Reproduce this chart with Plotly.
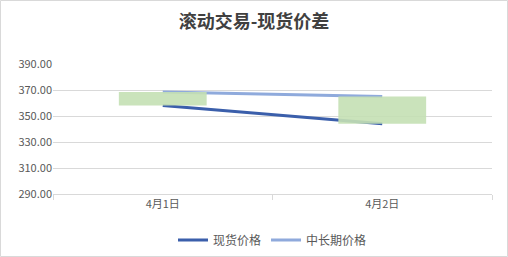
import plotly.graph_objects as go

categories = ["4月1日", "4月2日"]
spot_price = [358, 344]
long_term_price = [368.5, 365]
y_ticks = [290, 310, 330, 350, 370, 390]

W, H = 508, 257
ML, MR, MT, MB = 53, 16, 64, 63

bar_base = [min(a, b) for a, b in zip(spot_price, long_term_price)]
bar_len = [abs(a - b) for a, b in zip(spot_price, long_term_price)]

fig = go.Figure()
fig.add_trace(go.Scatter(x=categories, y=spot_price, name="现货价格", mode="lines",
                         line=dict(color="#3B5FAB", width=3)))
fig.add_trace(go.Scatter(x=categories, y=long_term_price, name="中长期价格", mode="lines",
                         line=dict(color="#8FAADC", width=3)))
fig.add_trace(go.Bar(x=categories, y=bar_len, base=bar_base, width=0.4,
                     marker=dict(color="#C5E0B4", line=dict(width=0)), opacity=0.9,
                     showlegend=False, xaxis="x2", yaxis="y2", hoverinfo="skip"))

pw = W - ML - MR
ph = H - MT - MB
x0 = (0.5 - ML) / pw
x1 = (W - 0.5 - ML) / pw
y0 = -(H - 0.5 - MT - ph) / ph
y1 = 1 + (MT - 0.5) / ph

fig.update_layout(
    width=W, height=H,
    margin=dict(l=ML, r=MR, t=MT, b=MB, autoexpand=False),
    paper_bgcolor="white", plot_bgcolor="white",
    font=dict(family="Noto Sans CJK SC, Liberation Sans", color="#595959", size=11),
    title=dict(text="<b>滚动交易-现货价差</b>", x=0.5, xanchor="center", y=1 - 22 / H, yanchor="middle",
               font=dict(family="Noto Sans CJK SC", size=18, color="#404040")),
    xaxis=dict(type="category", categoryorder="array", categoryarray=categories,
               showgrid=False, showline=True, linecolor="#D9D9D9", linewidth=1,
               ticks="outside", tickson="boundaries", ticklen=5, tickcolor="#D9D9D9",
               tickfont=dict(size=11, color="#595959"), range=[-0.5, 1.5]),
    xaxis2=dict(type="category", categoryorder="array", categoryarray=categories,
                overlaying="x", visible=False, range=[-0.5, 1.5]),
    yaxis=dict(range=[290, 390], tickvals=y_ticks, tickformat=".2f",
               showgrid=True, gridcolor="#D9D9D9", gridwidth=1, zeroline=False,
               showline=False, ticks="", ticklen=0, tickfont=dict(size=11, color="#595959")),
    yaxis2=dict(range=[290, 390], overlaying="y", visible=False),
    legend=dict(orientation="h", x=0.5, xanchor="center", y=-(240 - MT - ph) / ph, yanchor="middle",
                font=dict(size=12, color="#595959"), itemwidth=30, bgcolor="rgba(0,0,0,0)"),
    shapes=[dict(type="rect", xref="paper", yref="paper", x0=x0, x1=x1, y0=y0, y1=y1,
                 line=dict(color="#D9D9D9", width=1), fillcolor="rgba(0,0,0,0)", layer="below")],
    showlegend=True,
)

fig.write_html("out.html")
